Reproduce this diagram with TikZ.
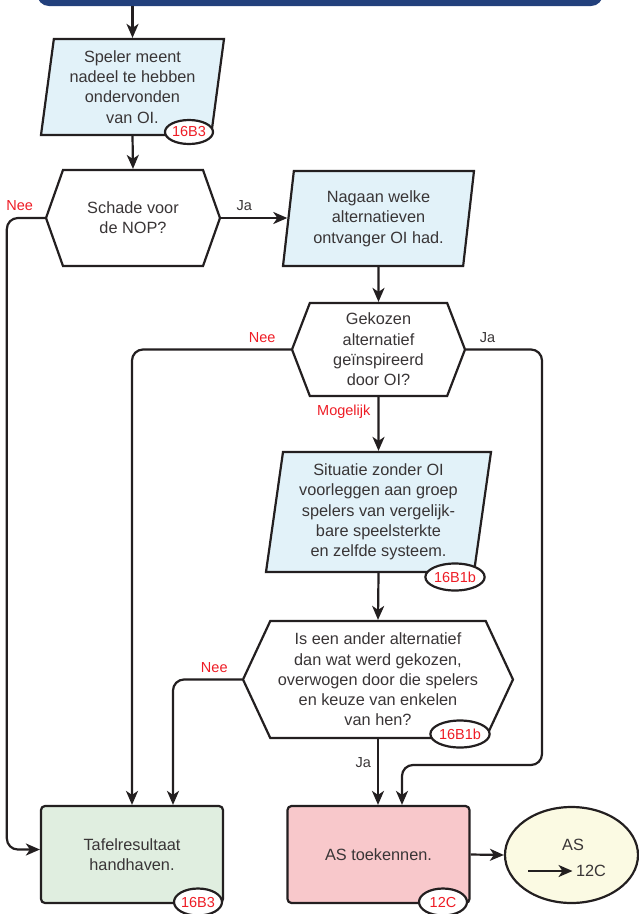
\documentclass[tikz,border=0pt]{standalone}
\usepackage{fontspec}
\setmainfont{Liberation Sans}
\usetikzlibrary{shapes.geometric,shapes.symbols,arrows.meta}
\definecolor{barblue}{HTML}{22407C}
\definecolor{inblue}{HTML}{E2F2F9}
\definecolor{keepgreen}{HTML}{E0EEE0}
\definecolor{scorered}{HTML}{F8C8CB}
\definecolor{endyellow}{HTML}{FBFAE3}
\definecolor{refred}{HTML}{EE1C25}
\definecolor{ink}{HTML}{231F20}
\begin{document}
\begin{tikzpicture}[x=1pt,y=-1pt,
	every node/.style={text=ink!90,align=center,font=\fontsize{16.3}{20.3}\selectfont},
	io/.style={draw=ink,line width=2.2pt,fill=inblue,trapezium,trapezium left angle=80,trapezium right angle=100,trapezium stretches body,inner sep=0pt},
	ask/.style={draw=ink,line width=2.2pt,fill=white,signal,signal to=west and east,inner sep=0pt},
	result/.style={draw=ink,line width=2.2pt,rectangle,rounded corners=4pt,minimum width=182pt,minimum height=97pt},
	ref/.style={draw=ink,line width=2.2pt,fill=white,ellipse,inner sep=0pt,text=refred,font=\fontsize{14.5}{16}\selectfont,minimum width=48pt,minimum height=24pt},
	lbl/.style={font=\fontsize{14.5}{16}\selectfont,inner sep=2pt},
	arr/.style={draw=ink,line width=2.2pt,rounded corners=11pt,-{Stealth[length=14pt,width=12pt,inset=4pt]}}]
	\useasboundingbox (0,0) rectangle (639,914);
	\clip (0,0) rectangle (639,914);

	\node[rectangle,fill=barblue,rounded corners=12pt,minimum width=566pt,minimum height=30pt] (banner) at (320,-9) {};
	\node[io,minimum width=183pt,minimum height=96pt] (p1) at (132.5,87) {Speler meent\\nadeel te hebben\\ondervonden\\van OI.};
	\node[ask,minimum width=174pt,minimum height=96pt,signal pointer angle=141] (h1) at (133,218) {Schade voor\\de NOP?};
	\node[io,trapezium left angle=79,trapezium right angle=101,minimum width=191pt,minimum height=95pt] (p2) at (378.5,218.5) {Nagaan welke\\alternatieven\\ontvanger OI had.};
	\node[ask,minimum width=173pt,minimum height=93pt,signal pointer angle=138] (h2) at (378.5,349.5) {Gekozen\\alternatief\\geïnspireerd\\door OI?};
	\node[io,minimum width=225pt,minimum height=120pt] (p3) at (378.5,512) {Situatie zonder OI\\voorleggen aan groep\\spelers van vergelijk-\\bare speelsterkte\\en zelfde systeem.};
	\node[ask,minimum width=270pt,minimum height=117pt,signal pointer angle=130] (h3) at (378,679.5) {Is een ander alternatief\\dan wat werd gekozen,\\overwogen door die spelers\\en keuze van enkelen\\van hen?};
	\node[result,fill=keepgreen] (keep) at (132,854.5) {Tafelresultaat\\handhaven.};
	\node[result,fill=scorered] (score) at (378.5,854.5) {AS toekennen.};
	\node[draw=ink,line width=2.2pt,fill=endyellow,ellipse,minimum width=133pt,minimum height=96pt] (asend) at (571.5,855) {};
	\node (astxt) at (573,845) {AS};
	\node (asref) at (591,871) {12C};
	\coordinate (asfrom) at (528,871);
	\coordinate (jaturn) at (542,765);

	\draw[arr] (banner.south -| p1.north) -- (p1.north);
	\draw[arr] (p1.south) -- (h1.north);
	\draw[arr] (h1.east) -- node[lbl,above=4pt,pos=0.35]{Ja} (h1.east -| p2.west);
	\draw[arr] (h1.west) -- node[lbl,above=4pt,pos=0.66,text=refred]{Nee} ++(-38,0) |- ([yshift=5pt]keep.west);
	\draw[arr] (p2.south) -- (h2.north);
	\draw[arr] (h2.south) -- node[lbl,left=5pt,pos=0.27,text=refred]{Mogelijk} (p3.north);
	\draw[arr] (h2.west) -| node[lbl,above=4pt,pos=0.09,text=refred]{Nee} (keep.north);
	\draw[arr] (h2.east) -| node[lbl,above=4pt,pos=0.14]{Ja} (jaturn) -| ([xshift=23.5pt]score.north);
	\draw[arr] (p3.south) -- (h3.north);
	\draw[arr] (h3.west) -| node[lbl,above=4pt,pos=0.2,text=refred]{Nee} ([xshift=41pt]keep.north);
	\draw[arr] (h3.south) -- node[lbl,left=4pt,pos=0.35]{Ja} (h3.south |- score.north);
	\draw[arr] (score.east) -- (asend.west);
	\draw[arr] (asfrom) -- (asref.west);

	\node[ref] (b1) at (189,132) {16B3};
	\node[ref,minimum width=58pt,minimum height=27pt] (b2) at (455,577) {16B1b};
	\node[ref,minimum width=54pt,minimum height=27pt] (b3) at (460,734) {16B1b};
	\node[ref,minimum height=27pt] (b4) at (198,902) {16B3};
	\node[ref,minimum height=27pt] (b5) at (443,902) {12C};
\end{tikzpicture}
\end{document}
